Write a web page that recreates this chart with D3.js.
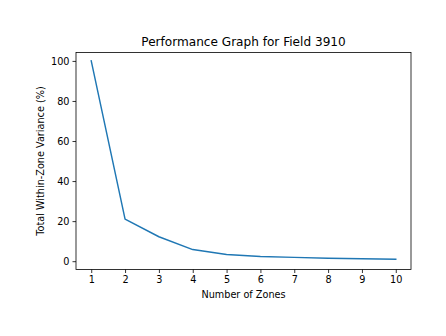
<!DOCTYPE html>
<html>
<head>
<meta charset="utf-8">
<script src="https://cdn.jsdelivr.net/npm/d3@7"></script>
<style>
  html, body { margin: 0; padding: 0; background: #fff; }
  svg { display: block; font-family: "DejaVu Sans", sans-serif; }
</style>
</head>
<body>
<svg id="chart" width="446" height="336"></svg>
<script>
// Elbow curve: total within-zone variance by number of zones
const zones = [1, 2, 3, 4, 5, 6, 7, 8, 9, 10];
const variance = [100, 21, 12.2, 5.8, 3.3, 2.3, 1.9, 1.5, 1.2, 1.0];
const yTicks = [0, 20, 40, 60, 80, 100];
const title = "Performance Graph for Field 3910";
const xLabel = "Number of Zones";
const yLabel = "Total Within-Zone Variance (%)";

const svg = d3.select("#chart");
const plotLeft = 76, plotRight = 411, plotTop = 52.5, plotBottom = 269.5;

const x = d3.scaleLinear().domain([0.55, 10.45]).range([plotLeft, plotRight]);
const y = d3.scaleLinear().domain([-4.15, 104.2]).range([plotBottom, plotTop]);

// line
svg.append("path")
  .datum(zones.map((z, i) => [z, variance[i]]))
  .attr("fill", "none")
  .attr("stroke", "#1f77b4")
  .attr("stroke-width", 1.45)
  .attr("stroke-linejoin", "round")
  .attr("stroke-linecap", "square")
  .attr("d", d3.line().x(d => x(d[0])).y(d => y(d[1])));

// axes
const xAxis = svg.append("g")
  .attr("transform", `translate(0,${plotBottom})`)
  .call(d3.axisBottom(x).tickValues(zones).tickFormat(d3.format("d")).tickSizeOuter(0).tickSize(3.5).tickPadding(3));
const yAxis = svg.append("g")
  .attr("transform", `translate(${plotLeft},0)`)
  .call(d3.axisLeft(y).tickValues(yTicks).tickFormat(d3.format("d")).tickSizeOuter(0).tickSize(3.5).tickPadding(3));

[xAxis, yAxis].forEach(g => {
  g.select(".domain").remove();
  g.selectAll("text").attr("font-size", "9.7px").attr("fill", "#000").attr("font-family", "DejaVu Sans, sans-serif");
  g.selectAll("line").attr("stroke", "#000").attr("stroke-width", 0.8);
});

// frame
svg.append("rect")
  .attr("x", plotLeft).attr("y", plotTop)
  .attr("width", plotRight - plotLeft).attr("height", plotBottom - plotTop)
  .attr("fill", "none").attr("stroke", "#000").attr("stroke-width", 0.8);

// title and labels
svg.append("text")
  .attr("x", (plotLeft + plotRight) / 2).attr("y", 46)
  .attr("text-anchor", "middle")
  .attr("font-size", "12.1px")
  .text(title);

svg.append("text")
  .attr("x", (plotLeft + plotRight) / 2).attr("y", 298)
  .attr("text-anchor", "middle")
  .attr("font-size", "9.7px")
  .text(xLabel);

svg.append("text")
  .attr("transform", `translate(43.5,${(plotTop + plotBottom) / 2}) rotate(-90)`)
  .attr("text-anchor", "middle")
  .attr("font-size", "9.7px")
  .text(yLabel);
</script>
</body>
</html>
